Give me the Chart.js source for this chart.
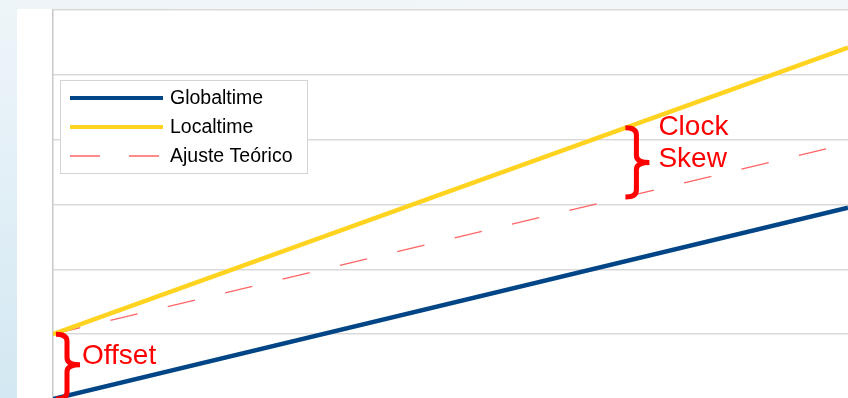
<!DOCTYPE html>
<html>
<head>
<meta charset="utf-8">
<script src="https://cdn.jsdelivr.net/npm/chart.js@4.4.1/dist/chart.umd.min.js"></script>
<style>
  html, body { margin: 0; padding: 0; width: 848px; height: 398px; overflow: hidden; }
  body { background: linear-gradient(to bottom, #eef5f9 0%, #e4f0f7 40%, #d3e8f2 100%); }
  #topband { position: absolute; left: 0; top: 0; width: 848px; height: 9px; background: linear-gradient(to right, #eef5f9, #f3f6f8); }
  #paper { position: absolute; left: 17px; top: 9px; width: 831px; height: 389px; background: #ffffff; }
  #wrap { position: absolute; left: 0; top: 0; width: 848px; height: 410px; }
</style>
</head>
<body>
<div id="topband"></div>
<div id="paper"></div>
<div id="wrap"><canvas id="chart"></canvas></div>
<script>
/**
 * DATA
 */
const xValues = [0, 10];
const globaltime = [0.0, 2.95];
const localtime = [1.0, 5.42];
const ajusteTeorico = [1.0, 3.94];
const seriesLabels = ["Globaltime", "Localtime", "Ajuste Teórico"];
const yMin = 0;
const yMax = 6;
// where the braces sit (x in data units)
const offsetX = 0;
const skewX = 7.2;

const FONT = '"Liberation Sans", Arial, sans-serif';
const BLUE = "#004586";
const YELLOW = "#ffd320";
const RED_DASH = "#ff6464";

const toPoints = (ys) => xValues.map((x, i) => ({ x: x, y: ys[i] }));

/**
 * AUX
 */
const drawBrace = (ctx, x0, yTop, yBot, tipY) => {
  const xm = x0 + 11;
  const xTip = x0 + 24;
  const yMid = tipY === undefined ? (yTop + yBot) / 2 : tipY;
  const r = 7;
  ctx.beginPath();
  ctx.moveTo(x0, yTop);
  ctx.quadraticCurveTo(xm, yTop, xm, yTop + r);
  ctx.lineTo(xm, yMid - r);
  ctx.quadraticCurveTo(xm, yMid, xTip, yMid);
  ctx.quadraticCurveTo(xm, yMid, xm, yMid + r);
  ctx.lineTo(xm, yBot - r);
  ctx.quadraticCurveTo(xm, yBot, x0, yBot);
  ctx.stroke();
  return { tipX: xTip, midY: yMid };
};

const valueAt = (arr, x) => arr[0] + (arr[1] - arr[0]) * (x - xValues[0]) / (xValues[1] - xValues[0]);

const overlayPlugin = {
  id: "overlay",
  afterDraw(chart) {
    const ctx = chart.ctx;
    const xs = chart.scales.x;
    const ys = chart.scales.y;
    ctx.save();

    // legend box
    const lx = 60, ly = 80, lw = 247, lh = 93;
    ctx.fillStyle = "#ffffff";
    ctx.fillRect(lx, ly, lw, lh);
    ctx.strokeStyle = "#d4d4d4";
    ctx.lineWidth = 1;
    ctx.strokeRect(lx + 0.5, ly + 0.5, lw, lh);

    const rows = [98, 127, 156];
    chart.data.datasets.forEach((ds, i) => {
      const y = rows[i];
      ctx.strokeStyle = ds.borderColor;
      if (ds.borderDash && ds.borderDash.length) {
        ctx.lineWidth = 1.3;
        ctx.beginPath();
        ctx.moveTo(70, y); ctx.lineTo(100, y);
        ctx.moveTo(129, y); ctx.lineTo(159, y);
        ctx.stroke();
      } else {
        ctx.lineWidth = 4;
        ctx.beginPath();
        ctx.moveTo(70, y); ctx.lineTo(163, y);
        ctx.stroke();
      }
      ctx.fillStyle = "#000000";
      ctx.font = "19.5px " + FONT;
      ctx.textBaseline = "middle";
      ctx.fillText(ds.label, 170, y + 1);
    });

    // braces + labels
    ctx.strokeStyle = "#ff0000";
    ctx.fillStyle = "#ff0000";
    ctx.lineWidth = 5;
    ctx.lineCap = "butt";

    const ox = xs.getPixelForValue(offsetX) + 3;
    const oTop = ys.getPixelForValue(valueAt(localtime, offsetX));
    const oBot = ys.getPixelForValue(valueAt(globaltime, offsetX));
    const b1 = drawBrace(ctx, ox, oTop, oBot, oTop + (oBot - oTop) * 0.47);
    ctx.font = "28px " + FONT;
    ctx.textBaseline = "alphabetic";
    ctx.fillText("Offset", b1.tipX + 2, b1.midY - 1);

    const sx = xs.getPixelForValue(skewX);
    const yTop = ys.getPixelForValue(valueAt(localtime, skewX));
    const yBot = ys.getPixelForValue(valueAt(ajusteTeorico, skewX));
    const b2 = drawBrace(ctx, sx, yTop, yBot);
    ctx.fillText("Clock", b2.tipX + 9, b2.midY - 27);
    ctx.fillText("Skew", b2.tipX + 9, b2.midY + 5);

    ctx.restore();
  }
};

const setChart = (id) => {
  return new Chart(
    document.getElementById(id),
    {
      type: "line",
      data: {
        datasets: [
          {
            label: seriesLabels[0],
            data: toPoints(globaltime),
            borderColor: BLUE,
            borderWidth: 4.5,
            pointRadius: 0,
            tension: 0
          },
          {
            label: seriesLabels[1],
            data: toPoints(localtime),
            borderColor: YELLOW,
            borderWidth: 4.5,
            pointRadius: 0,
            tension: 0
          },
          {
            label: seriesLabels[2],
            data: toPoints(ajusteTeorico),
            borderColor: RED_DASH,
            borderWidth: 1.3,
            borderDash: [28, 31],
            pointRadius: 0,
            tension: 0
          }
        ]
      },
      options: {
        responsive: true,
        maintainAspectRatio: false,
        animation: false,
        layout: { padding: { left: 53, top: 10, right: 0, bottom: 11 } },
        plugins: {
          legend: { display: false },
          tooltip: { enabled: false }
        },
        scales: {
          x: {
            type: "linear",
            min: xValues[0],
            max: xValues[xValues.length - 1],
            display: false
          },
          y: {
            min: yMin,
            max: yMax,
            ticks: { display: false, stepSize: 1 },
            grid: { color: "#d9d9d9", lineWidth: 1.5, drawTicks: false },
            border: { display: true, color: "#c8c8c8", width: 1.5 }
          }
        }
      },
      plugins: [overlayPlugin]
    }
  );
};

document.addEventListener("DOMContentLoaded", () => {
  setChart("chart");
});
</script>
</body>
</html>
